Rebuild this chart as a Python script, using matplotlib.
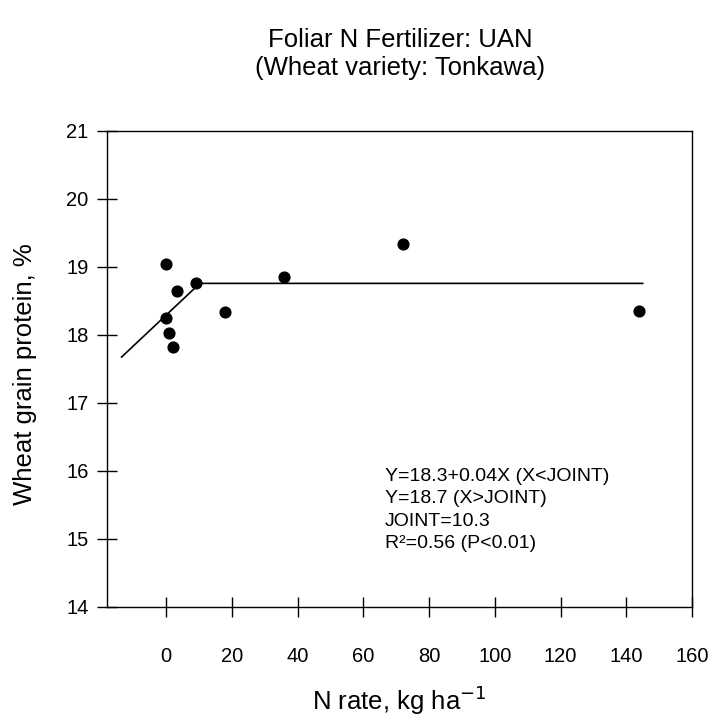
import matplotlib
matplotlib.use("Agg")
import matplotlib.pyplot as plt
import numpy as np

plt.rcParams["font.family"] = ["Liberation Sans", "DejaVu Sans"]

# N rate (kg/ha) and grain protein (%)
n_rate = [0, 3.5, 9, 0, 1, 2, 18, 36, 72, 144]
protein = [19.04, 18.65, 18.76, 18.25, 18.03, 17.82, 18.34, 18.85, 19.34, 18.35]

# linear-plateau fit as drawn
intercept = 18.29
slope = 0.0455
joint = 10.3
line_start = -13.5
line_end = 145

x_ticks = [0, 20, 40, 60, 80, 100, 120, 140, 160]
y_ticks = [14, 15, 16, 17, 18, 19, 20, 21]

fit_text = "Y=18.3+0.04X (X<JOINT)\nY=18.7 (X>JOINT)\nJOINT=10.3\nR\u00b2=0.56 (P<0.01)"

fig = plt.figure(figsize=(7.12, 7.18), dpi=100)
ax = fig.add_axes([0.150, 0.1546, 0.822, 0.663])

ax.scatter(n_rate, protein, s=60, color="black", zorder=3)

plateau = intercept + slope * joint
ax.plot([line_start, joint, line_end],
        [intercept + slope * line_start, plateau, plateau],
        color="black", linewidth=1.2)

ax.set_xlim(-18, 160)
ax.set_ylim(14, 21)
ax.set_xticks(x_ticks)
ax.set_yticks(y_ticks)
ax.tick_params(direction="inout", length=14, width=1.0, labelsize=14.5)
ax.tick_params(axis="x", pad=22)
ax.tick_params(axis="y", pad=6)
for s in ax.spines.values():
    s.set_linewidth(1.0)

ax.set_xlabel("N rate, kg ha$^{-1}$", fontsize=18.5)
ax.set_ylabel("Wheat grain protein, %", fontsize=18.5)
ax.xaxis.set_label_coords(0.5, -0.195)
ax.xaxis.label.set_va("center")
ax.yaxis.set_label_coords(-0.140, 0.49)
ax.yaxis.label.set_va("center")

ax.text(0.475, 0.292, fit_text, transform=ax.transAxes, fontsize=14,
        va="top", ha="left", linespacing=1.42)

fig.text(0.562, 0.944, "Foliar N Fertilizer: UAN", ha="center", va="center", fontsize=18.5)
fig.text(0.562, 0.905, "(Wheat variety: Tonkawa)", ha="center", va="center", fontsize=18.5)

plt.savefig("out.png", dpi=100)
